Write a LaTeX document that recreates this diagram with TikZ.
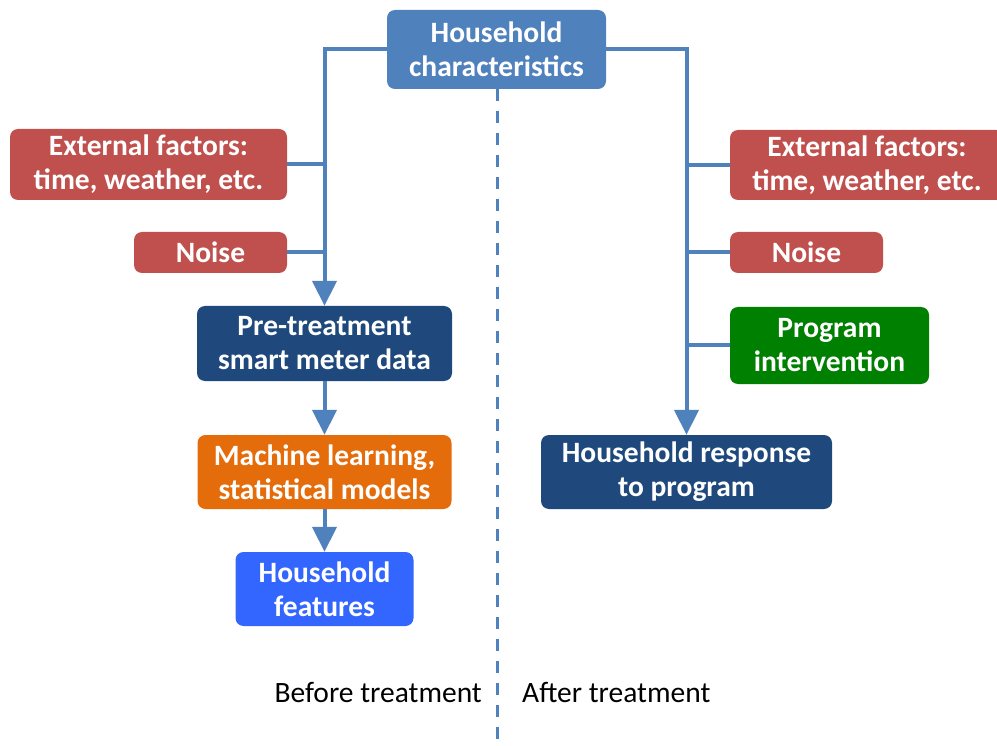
\documentclass[tikz,border=0pt]{standalone}
\usepackage{fontspec}
\setmainfont{Carlito}
\usetikzlibrary{arrows.meta}
\definecolor{lblue}{HTML}{4F81BD}
\definecolor{bred}{HTML}{C0504D}
\definecolor{navy}{HTML}{1F497D}
\definecolor{orng}{HTML}{E46C0A}
\definecolor{brightblue}{HTML}{3366FF}
\definecolor{dgreen}{HTML}{008000}
\tikzset{
  box/.style={rectangle, rounded corners=8pt, draw=none, text=white, align=center,
    font=\bfseries\fontsize{29.5}{34}\selectfont, inner sep=0pt},
  conn/.style={draw=lblue, line width=4pt},
  arr/.style={conn, -{Triangle[width=24pt,length=25pt]}},
  divider/.style={draw=lblue, line width=3pt, dash pattern=on 12pt off 10pt},
  lbl/.style={font=\fontsize{29.5}{34}\selectfont, text=black, inner sep=0pt}
}
\begin{document}
\begin{tikzpicture}[x=1pt,y=-1pt]
\useasboundingbox[fill=white] (0,0) rectangle (997,746);
% nodes
\node[box, fill=lblue, minimum width=219pt, minimum height=79pt] (hc) at (496.5,49.5) {Household\\characteristics};
\node[box, fill=bred, minimum width=277pt, minimum height=71pt] (extL) at (148.5,164.5) {External factors:\\time, weather, etc.};
\node[box, fill=bred, minimum width=153pt, minimum height=41pt] (noiseL) at (210.5,252.5) {Noise};
\node[box, fill=navy, minimum width=255pt, minimum height=75pt] (pre) at (324.5,343.5) {Pre-treatment\\smart meter data};
\node[box, fill=orng, minimum width=254pt, minimum height=74pt] (ml) at (324.5,472) {Machine learning,\\statistical models};
\node[box, fill=brightblue, minimum width=178pt, minimum height=74pt] (feat) at (324.5,589) {Household\\features};
\node[box, fill=bred, minimum width=274pt, minimum height=70pt] (extR) at (867,165) {External factors:\\time, weather, etc.};
\node[box, fill=bred, minimum width=153pt, minimum height=41pt] (noiseR) at (806.5,252.5) {Noise};
\node[box, fill=dgreen, minimum width=199pt, minimum height=77pt] (prog) at (829.5,345.5) {Program\\intervention};
\node[box, fill=navy, minimum width=291pt, minimum height=74pt] (resp) at (686.5,472) {Household response\\to program};
\node[lbl, anchor=east] (before) at (482,692) {Before treatment};
\node[lbl, anchor=west] (after) at (522,692) {After treatment};
\coordinate (dtop) at (497,89);
\coordinate (dbot) at (497,746);
% connectors
\draw[arr] (hc.west) -| (pre.north);
\draw[arr] (hc.east) -| (resp.north);
\draw[conn] (extL.east) -- (extL.east -| pre.north);
\draw[conn] (noiseL.east) -- (noiseL.east -| pre.north);
\draw[conn] (extR.west) -- (extR.west -| resp.north);
\draw[conn] (noiseR.west) -- (noiseR.west -| resp.north);
\draw[conn] (prog.west) -- (prog.west -| resp.north);
\draw[arr] (pre.south) -- (ml.north);
\draw[arr] (ml.south) -- (feat.north);
\draw[divider] (dtop) -- (dbot);
\end{tikzpicture}
\end{document}
